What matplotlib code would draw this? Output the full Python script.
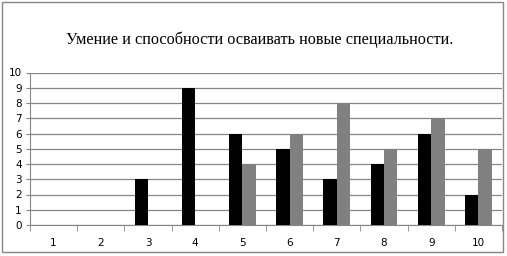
import numpy as np
import matplotlib.pyplot as plt
from matplotlib.patches import Rectangle

categories = ['1', '2', '3', '4', '5', '6', '7', '8', '9', '10']
series_black = [0, 0, 3, 9, 6, 5, 3, 4, 6, 2]
series_gray = [0, 0, 0, 0, 4, 6, 8, 5, 7, 5]
title = 'Умение и способности осваивать новые специальности.'

fig = plt.figure(figsize=(5.07, 2.56), dpi=100)
ax = fig.add_axes([30 / 507, 31 / 256, 472 / 507, 152.5 / 256])

# outer chart border
fig.patches.append(Rectangle((2 / 507, 4 / 256), 501 / 507, 250 / 256,
                             transform=fig.transFigure, fill=False,
                             edgecolor='#868686', linewidth=1))

x = np.arange(len(categories))
w = 0.286
ax.bar(x - w / 2, series_black, width=w, color='black', zorder=3)
ax.bar(x + w / 2, series_gray, width=w, color='#808080', zorder=3)

ax.set_xlim(-0.5, len(categories) - 0.5)
ax.set_ylim(0, 10)
ax.set_yticks(range(0, 11))
ax.yaxis.grid(True, color='#868686', linewidth=0.9, zorder=0)

ax.set_xticks(x)
ax.set_xticklabels(categories)
ax.set_xticks(np.arange(-0.5, len(categories)), minor=True)
ax.tick_params(axis='x', which='major', length=0, pad=9)
ax.tick_params(axis='x', which='minor', length=4, color='#868686')
ax.tick_params(axis='y', length=3, color='#868686', pad=3)
ax.tick_params(labelsize=7.5, labelcolor='black')

for s in ['top', 'right']:
    ax.spines[s].set_visible(False)
for s in ['left', 'bottom']:
    ax.spines[s].set_color('#868686')

fig.text(0.513, 0.845, title, ha='center', va='center',
         family='Liberation Serif', fontsize=11.7)

fig.savefig('out.png', dpi=100)
